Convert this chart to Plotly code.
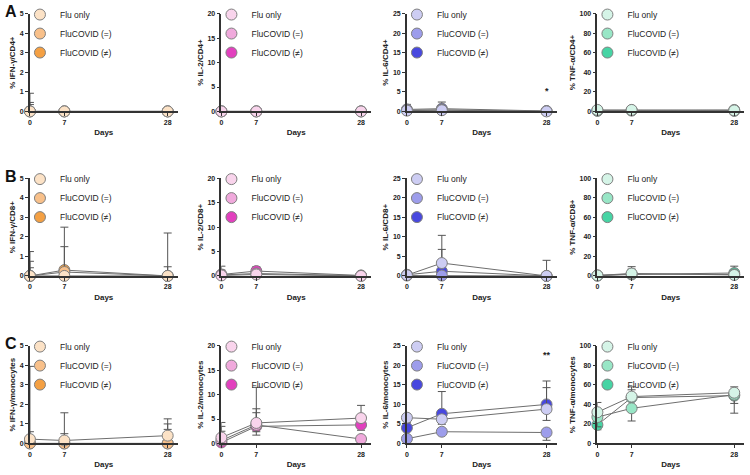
import plotly.graph_objects as go

# ---------------- data ----------------
days = [0, 7, 28]
day_labels = ["0", "7", "28"]
groups = ["Flu only", "FluCOVID (=)", "FluCOVID (≠)"]

# Row A : CD4+
ifng_cd4 = [[0, 0, 0], [0, 0, 0], [0, 0, 0]]
ifng_cd4_up = [[0.35, 0, 0], [0.46, 0, 0], [0.93, 0, 0]]
ifng_cd4_dn = [[0, 0, 0], [0, 0, 0], [0, 0, 0]]

il2_cd4 = [[0, 0, 0], [0, 0, 0], [0, 0, 0]]
il2_cd4_up = [[0, 0, 0], [0, 0, 0], [0, 0, 0]]
il2_cd4_dn = [[0, 0, 0], [0, 0, 0], [0, 0, 0]]

il6_cd4 = [[0.2, 0.3, 0], [0.3, 0.4, 0.05], [0.5, 0.7, 0.1]]
il6_cd4_up = [[0.4, 0.6, 0], [0.8, 1.0, 0], [1.3, 1.7, 0]]
il6_cd4_dn = [[0, 0, 0], [0, 0, 0], [0, 0, 0]]

tnf_cd4 = [[1.5, 1.5, 1.0], [1.0, 1.2, 1.5], [0.5, 0.8, 0.5]]
tnf_cd4_up = [[3.0, 3.5, 3.5], [2.0, 2.0, 2.0], [1.5, 1.5, 1.0]]
tnf_cd4_dn = [[0, 0, 0], [0, 0, 0], [0, 0, 0]]

# Row B : CD8+
ifng_cd8 = [[0, 0, 0], [0, 0.2, 0], [0, 0.3, 0]]
ifng_cd8_up = [[0.42, 0, 0.47], [0.75, 1.3, 2.2], [1.25, 2.2, 0]]
ifng_cd8_dn = [[0, 0, 0], [0, 0, 0], [0, 0, 0]]

il2_cd8 = [[0.1, 0.3, 0], [0.2, 0.5, 0.05], [0.3, 1.0, 0.1]]
il2_cd8_up = [[0.5, 0.4, 0], [1.0, 0.6, 0], [1.7, 0.9, 0]]
il2_cd8_dn = [[0, 0, 0], [0, 0, 0], [0, 0, 0]]

il6_cd8 = [[0.2, 3.3, 0], [0.1, 0.1, 0], [0.3, 1.2, 0]]
il6_cd8_up = [[0.9, 7.1, 4.0], [0.3, 0.5, 0], [0.5, 5.6, 0]]
il6_cd8_dn = [[0, 0, 0], [0, 0, 0], [0, 0, 0]]

tnf_cd8 = [[0.5, 2.5, 1.0], [0.5, 2.0, 1.5], [0.3, 1.5, 3.0]]
tnf_cd8_up = [[1.0, 7.0, 2.0], [1.0, 5.0, 3.0], [0.5, 5.0, 7.0]]
tnf_cd8_dn = [[0, 0, 0], [0, 0, 0], [0, 0, 0]]

# Row C : monocytes
ifng_mono = [[0.22, 0.15, 0.4], [0, 0, 0], [0, 0, 0]]
ifng_mono_up = [[0.38, 1.42, 0.86], [3.95, 0.5, 1.0], [0, 0, 0.72]]
ifng_mono_dn = [[0, 0, 0], [0, 0, 0], [0, 0, 0]]

il2_mono = [[1.2, 4.2, 5.2], [0.6, 3.8, 0.9], [0.2, 3.5, 3.8]]
il2_mono_up = [[3.1, 7.3, 2.6], [2.9, 3.3, 0], [2.3, 2.8, 1.1]]
il2_mono_dn = [[0, 0, 0], [0, 1.4, 0], [0, 1.8, 1.1]]

il6_mono = [[6.6, 6.2, 8.8], [1.2, 3.0, 2.8], [4.0, 7.6, 10.0]]
il6_mono_up = [[1.0, 0, 5.5], [0, 0, 0], [0, 5.7, 6.0]]
il6_mono_dn = [[1.3, 1.3, 2.9], [0, 0, 2.0], [0, 0, 0]]

tnf_mono = [[32, 48, 52], [27, 36, 50], [19, 47, 49]]
tnf_mono_up = [[10, 10, 6], [0, 0, 0], [0, 8, 0]]
tnf_mono_dn = [[0, 0, 0], [10, 13, 9], [5, 0, 18]]

y_titles = [
    ["% IFN-γ/CD4+", "% IL-2/CD4+", "% IL-6/CD4+", "% TNF-α/CD4+"],
    ["% IFN-γ/CD8+", "% IL-2/CD8+", "% IL-6/CD8+", "% TNF-α/CD8+"],
    ["% IFN-γ/monocytes", "% IL-2/monocytes", "% IL-6/monocytes", "% TNF-α/monocytes"],
]
y_max = [5, 20, 25, 100]
y_step = [1, 5, 5, 20]
row_letters = ["A", "B", "C"]

panels = [
    [(ifng_cd4, ifng_cd4_up, ifng_cd4_dn), (il2_cd4, il2_cd4_up, il2_cd4_dn),
     (il6_cd4, il6_cd4_up, il6_cd4_dn), (tnf_cd4, tnf_cd4_up, tnf_cd4_dn)],
    [(ifng_cd8, ifng_cd8_up, ifng_cd8_dn), (il2_cd8, il2_cd8_up, il2_cd8_dn),
     (il6_cd8, il6_cd8_up, il6_cd8_dn), (tnf_cd8, tnf_cd8_up, tnf_cd8_dn)],
    [(ifng_mono, ifng_mono_up, ifng_mono_dn), (il2_mono, il2_mono_up, il2_mono_dn),
     (il6_mono, il6_mono_up, il6_mono_dn), (tnf_mono, tnf_mono_up, tnf_mono_dn)],
]

# significance marks: (row, col, day, y, text)
stars = [(0, 2, 28, 5.3, "*"), (2, 2, 28, 22.7, "**")]

# ---------------- styling ----------------
palettes = [
    ["#FCE2C6", "#F8C08A", "#F4A043"],   # IFN-γ
    ["#F9D4EC", "#F0A9DC", "#E240BE"],   # IL-2
    ["#CDCDF3", "#9D9DEB", "#4848DF"],   # IL-6
    ["#D5F4E7", "#98E6C6", "#46D4A4"],   # TNF-α
]
FONT = "Arial, 'Liberation Sans', sans-serif"
W, H = 750, 475
col_px = [(28, 176), (220, 370), (406, 556), (597, 744)]
row_px = [(10, 109), (177, 276), (347, 446)]
AX = "#333333"
MK_LINE = dict(color="#7f7f7f", width=1)
MK_SIZE = 11

fig = go.Figure()
layout = dict(
    width=W, height=H, margin=dict(l=0, r=0, t=0, b=0),
    paper_bgcolor="white", plot_bgcolor="white",
    font=dict(family=FONT, color="#222"),
    annotations=[],
)

for r in range(3):
    for c in range(4):
        i = r * 4 + c + 1
        sfx = "" if i == 1 else str(i)
        x0, x1 = col_px[c]
        yt, yb = row_px[r]
        vals, ups, dns = panels[r][c]
        leg = "legend" + sfx
        # data: draw darkest group first so "Flu only" sits on top
        for g in (2, 1, 0):
            fig.add_trace(go.Scatter(
                x=days, y=vals[g], name=groups[g], mode="lines+markers",
                xaxis="x" + sfx, yaxis="y" + sfx, showlegend=False,
                cliponaxis=False,
                line=dict(color="#6e6e6e", width=1),
                marker=dict(size=MK_SIZE, color=palettes[c][g], line=MK_LINE),
                error_y=dict(type="data", symmetric=False, array=ups[g],
                             arrayminus=dns[g], color="#555555",
                             thickness=1, width=4),
            ))
        # legend-only entries (marker symbol, no data drawn)
        for g in range(3):
            fig.add_trace(go.Scatter(
                x=[None], y=[None], name=groups[g], mode="markers",
                xaxis="x" + sfx, yaxis="y" + sfx, legend=leg,
                marker=dict(size=MK_SIZE, color=palettes[c][g], line=MK_LINE),
            ))
        layout["xaxis" + sfx] = dict(
            domain=[x0 / W, x1 / W], anchor="y" + sfx, range=[0, 30],
            tickvals=days, ticktext=day_labels, showgrid=False, zeroline=False,
            showline=True, linecolor=AX, linewidth=1.6,
            ticks="outside", ticklen=3, tickwidth=1, tickcolor=AX,
            tickfont=dict(size=7, weight="bold", color="#222"),
            title=dict(text="Days", standoff=5,
                       font=dict(size=8, weight="bold", color="#222")),
        )
        layout["yaxis" + sfx] = dict(
            domain=[1 - yb / H, 1 - yt / H], anchor="x" + sfx,
            range=[0, y_max[c]], dtick=y_step[c], tick0=0,
            showgrid=False, zeroline=False,
            showline=True, linecolor=AX, linewidth=1.6,
            ticks="outside", ticklen=3, tickwidth=1, tickcolor=AX,
            tickfont=dict(size=7, weight="bold", color="#222"),
            title=dict(text=y_titles[r][c], standoff=3,
                       font=dict(size=8, weight="bold", color="#222")),
        )
        layout[leg] = dict(
            x=(x0 - 10) / W, y=1 - (yt - 14) / H, xanchor="left", yanchor="top",
            bgcolor="rgba(0,0,0,0)", borderwidth=0,
            font=dict(size=8.5, color="#222", family=FONT),
            tracegroupgap=0,
        )
    layout["annotations"].append(dict(
        text=row_letters[r], xref="paper", yref="paper",
        x=1 / W, y=1 - (row_px[r][0] - 2) / H, xanchor="left", yanchor="middle",
        showarrow=False, font=dict(size=16, weight="bold", color="#111"),
    ))

for (r, c, d, yv, txt) in stars:
    i = r * 4 + c + 1
    sfx = "" if i == 1 else str(i)
    layout["annotations"].append(dict(
        text=txt, xref="x" + sfx, yref="y" + sfx, x=d, y=yv,
        showarrow=False, font=dict(size=9, weight="bold", color="#222"),
    ))

fig.update_layout(**layout)
fig.write_html(
    "out.html",
    config={"displayModeBar": False},
    post_script="document.body.style.margin='0';document.body.style.overflow='hidden';",
)
